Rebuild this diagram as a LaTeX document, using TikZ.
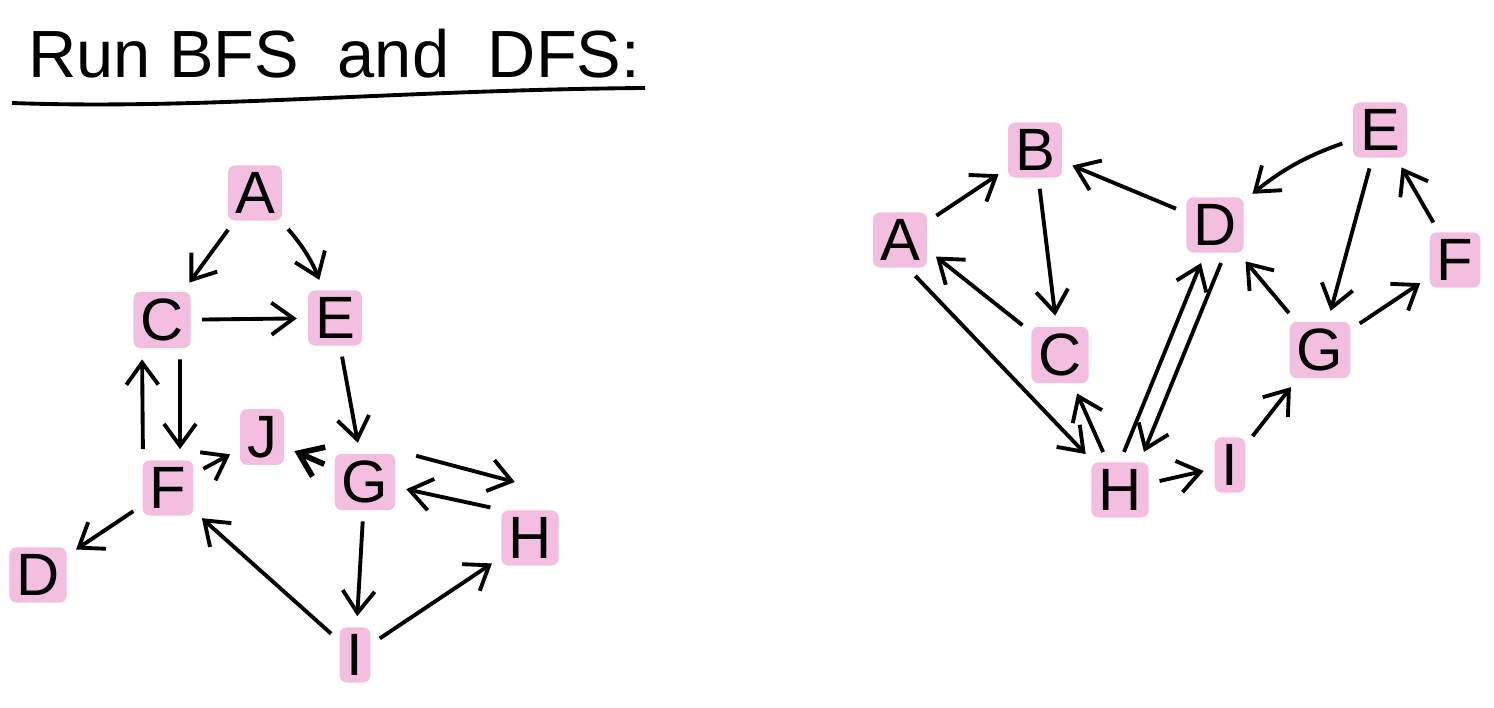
\documentclass[tikz,border=0pt]{standalone}
\usepackage{fontspec}
\setmainfont{Liberation Sans}
\usetikzlibrary{arrows.meta}
\definecolor{hilite}{RGB}{228,110,185}

\begin{document}
\begin{tikzpicture}[vertex/.style = {font=\fontsize{17}{17}\selectfont, fill=hilite, fill opacity=0.45, text opacity=1, rounded corners=2pt, inner sep=2pt},
	arc/.style = {-{Straight Barb[length=2.2mm,width=3.2mm]}, line width=1.1pt, shorten <=3pt, shorten >=3pt}]
\useasboundingbox (0,0) rectangle (14.94,7.08);
\node[anchor=base west, font=\fontsize{19}{19}\selectfont] (title) at (0.16,6.3) {Run BFS\hspace{0.3em} and\hspace{0.3em} DFS:};
\draw[line width=1.1pt] (0.12,6.05) .. controls (2,5.98) and (4,6.18) .. (6.45,6.2);

% left graph
\node[vertex] (lA) at (2.55,5.15) {A};
\node[vertex] (lC) at (1.62,3.88) {C};
\node[vertex] (lE) at (3.35,3.90) {E};
\node[vertex] (lF) at (1.68,2.20) {F};
\node[vertex] (lJ) at (2.62,2.71) {J};
\node[vertex] (lG) at (3.65,2.26) {G};
\node[vertex] (lH) at (5.30,1.70) {H};
\node[vertex] (lD) at (0.38,1.33) {D};
\node[vertex] (lI) at (3.55,0.53) {I};
\draw[arc] (lA) -- (lC);
\draw[arc] (lA) to[bend left=10] (lE);
\draw[arc] (lC) -- (lE);
\draw[arc] ([xshift=0.18cm]lC.south) -- ([xshift=0.12cm]lF.north);
\draw[arc] ([xshift=-0.25cm]lF.north) -- ([xshift=-0.2cm]lC.south);
\draw[arc] (lE) -- (lG);
\draw[arc] (lF) -- (lJ);
\draw[arc, line width=1.6pt] (lG) -- (lJ);
\draw[arc] ([xshift=0.1cm]lG.north east) -- ([shift={(-0.05,0.25)}]lH.north);
\draw[arc] (lH.north west) -- ([yshift=-0.05cm]lG.east);
\draw[arc] (lF) -- (lD);
\draw[arc] (lG) -- (lI);
\draw[arc] (lI) -- (lF);
\draw[arc] (lI) -- (lH);

% right graph
\node[vertex] (rA) at (9.00,4.68) {A};
\node[vertex] (rB) at (10.35,5.58) {B};
\node[vertex] (rC) at (10.60,3.53) {C};
\node[vertex] (rD) at (12.15,4.83) {D};
\node[vertex] (rE) at (13.80,5.78) {E};
\node[vertex] (rF) at (14.55,4.48) {F};
\node[vertex] (rG) at (13.20,3.58) {G};
\node[vertex] (rH) at (11.20,2.18) {H};
\node[vertex] (rI) at (12.30,2.43) {I};
\draw[arc] (rA) -- (rB);
\draw[arc] (rD) -- (rB);
\draw[arc] (rB) -- (rC);
\draw[arc] (rC) -- ([yshift=-0.1cm]rA.east);
\draw[arc] ([xshift=0.08cm]rA.south) -- (rH);
\draw[arc] (rH) -- (rC);
\draw[arc] (rH.north) -- ([xshift=-0.1cm]rD.south);
\draw[arc] ([xshift=0.1cm]rD.south) -- ([xshift=0.2cm]rH.north);
\draw[arc] (rE) to[bend right=10] (rD);
\draw[arc] (rE) -- (rG);
\draw[arc] (rF) -- (rE);
\draw[arc] (rG) -- (rF);
\draw[arc] (rG) -- (rD);
\draw[arc] (rH) -- (rI);
\draw[arc] (rI) -- (rG);
\end{tikzpicture}
\end{document}
